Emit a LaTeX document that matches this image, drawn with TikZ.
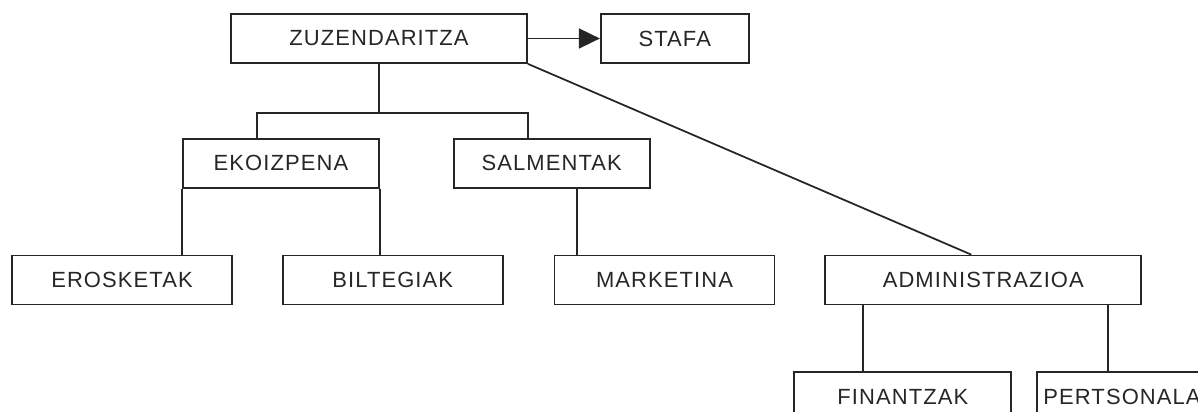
\documentclass[tikz,border=0pt]{standalone}
\usepackage{fontspec}
\setmainfont{Liberation Sans}[LetterSpace=5]
\usetikzlibrary{arrows.meta, positioning, calc}

\begin{document}
\begin{tikzpicture}[node distance=0.98cm, auto,
    unit/.style={rectangle, draw=black!85, line width=1pt, text=black!85, minimum height=0.98cm, inner sep=0pt, align=center, font=\fontsize{12.5}{14}\selectfont},
    line/.style={draw=black!85, line width=1pt},
    staffarrow/.style={line, -{Triangle[length=0.42cm, width=0.4cm]}}]
    \clip (0,0) rectangle (23.96,-8.24);
    \node [unit, minimum width=5.92cm] (zuz) at (7.58,-0.77) {ZUZENDARITZA};
    \node [unit, minimum width=2.96cm, right=1.44cm of zuz] (stafa) {STAFA};
    \node [unit, minimum width=3.92cm, below=1.48cm of zuz, xshift=-1.96cm] (ekoiz) {EKOIZPENA};
    \node [unit, minimum width=3.92cm, right=1.46cm of ekoiz] (salm) {SALMENTAK};
    \node [unit, minimum width=4.4cm, below=1.32cm of ekoiz, xshift=-3.18cm] (erosk) {EROSKETAK};
    \node [unit, minimum width=4.4cm, right=0.98cm of erosk] (bilt) {BILTEGIAK};
    \node [unit, minimum width=4.4cm, right=1.0cm of bilt] (mark) {MARKETINA};
    \node [unit, minimum width=6.32cm, right=0.98cm of mark] (admin) {ADMINISTRAZIOA};
    \node [unit, minimum width=4.34cm, below=1.32cm of admin, xshift=-1.61cm] (finan) {FINANTZAK};
    \node [unit, minimum width=3.4cm, right=0.48cm of finan] (pertso) {PERTSONALA};
    % staff and main branches
    \path [staffarrow] (zuz) -- (stafa);
    \draw [line] (zuz.south) -- ++(0,-0.98) coordinate (bar);
    \draw [line] ($(ekoiz.north)+(-0.48,0)$) |- (bar) -| ($(salm.north)+(-0.48,0)$);
    \draw [line] (zuz.south east) -- ($(admin.north)+(-0.24,0)$);
    % departments
    \draw [line] (ekoiz.south west) -- (ekoiz.south west |- erosk.north);
    \draw [line] (ekoiz.south east) -- (ekoiz.south east |- bilt.north);
    \draw [line] ($(salm.south)+(0.5,0)$) coordinate (salmdown) -- (salmdown |- mark.north);
    \draw [line] ($(admin.south)+(-2.4,0)$) coordinate (adminl) -- (adminl |- finan.north);
    \draw [line] ($(admin.south)+(2.5,0)$) coordinate (adminr) -- (adminr |- pertso.north);
\end{tikzpicture}
\end{document}
